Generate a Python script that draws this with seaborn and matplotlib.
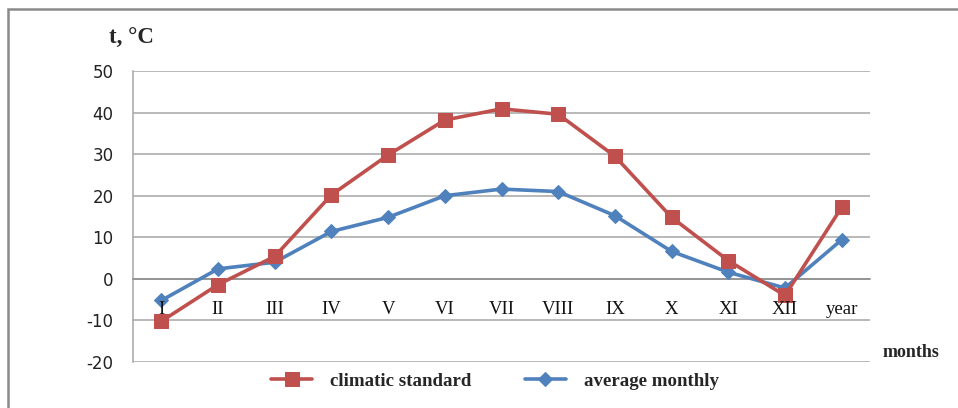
import matplotlib
matplotlib.use("Agg")
import matplotlib.pyplot as plt
import seaborn as sns
import pandas as pd
from matplotlib.patches import Rectangle

months = ["I", "II", "III", "IV", "V", "VI", "VII", "VIII", "IX", "X", "XI", "XII", "year"]
climatic_standard = [-10.2, -1.4, 5.4, 20.2, 29.8, 38.2, 40.9, 39.6, 29.5, 14.8, 4.4, -4.0, 17.2]
average_monthly = [-5.2, 2.4, 4.0, 11.4, 14.8, 20.0, 21.6, 21.0, 15.2, 6.6, 1.6, -2.2, 9.4]
y_ticks = [-20, -10, 0, 10, 20, 30, 40, 50]

RED = "#C0504D"
BLUE = "#4F81BD"
GRID = "#A6A6A6"

sns.set_theme(style="white")
plt.rcParams["font.family"] = ["DejaVu Sans"]

pos = list(range(len(months)))
df = pd.DataFrame({
    "pos": pos * 2,
    "temp": climatic_standard + average_monthly,
    "series": ["climatic standard"] * len(months) + ["average monthly"] * len(months),
})

fig = plt.figure(figsize=(9.58, 4.08), dpi=100)
ax = fig.add_axes([133 / 958, 1 - 362 / 408, (870 - 133) / 958, (362 - 71) / 408])

sns.lineplot(data=df[df.series == "climatic standard"], x="pos", y="temp", ax=ax,
             color=RED, lw=2.6, marker="s", markersize=10.5, markeredgecolor=RED,
             label="climatic standard", zorder=4)
sns.lineplot(data=df[df.series == "average monthly"], x="pos", y="temp", ax=ax,
             color=BLUE, lw=2.6, marker="D", markersize=7.5, markeredgecolor=BLUE,
             label="average monthly", zorder=3)

for s in ["top", "right"]:
    ax.spines[s].set_visible(False)
ax.spines["left"].set_color(GRID)
ax.spines["left"].set_linewidth(1.1)
ax.spines["bottom"].set_position(("data", 0))
ax.spines["bottom"].set_color("#8C8C8C")
ax.spines["bottom"].set_linewidth(1.1)

ax.set_xlim(-0.5, len(months) - 0.5)
ax.set_ylim(-20, 50)
ax.set_yticks(y_ticks)
ax.set_yticklabels([str(v) for v in y_ticks], fontsize=12, color="#222222")
ax.set_xticks(pos)
ax.set_xticklabels(months, fontsize=13.5, family="Liberation Serif", color="#111111")
ax.tick_params(axis="both", length=0)
ax.tick_params(axis="y", pad=14)
ax.tick_params(axis="x", pad=16)
ax.set_xlabel("")
ax.set_ylabel("")

ax.grid(axis="y", color=GRID, lw=1.1)
ax.set_axisbelow(True)
ax.xaxis.set_zorder(5)

ax.legend_.remove()
handles, labels = ax.get_legend_handles_labels()
fig.legend(handles, labels, loc="center", bbox_to_anchor=(495 / 958, 1 - 381 / 408),
           ncol=2, frameon=False, handlelength=2.2, columnspacing=2.8, handletextpad=0.95,
           prop={"family": "Liberation Serif", "weight": "bold", "size": 13.6})

fig.text(109 / 958, 1 - 44 / 408, "t, °C", family="Liberation Serif", weight="bold",
         fontsize=16.5, ha="left", va="baseline")
fig.text(883 / 958, 1 - 357 / 408, "months", family="Liberation Serif", weight="bold",
         fontsize=13, ha="left", va="baseline")

fig.patches.append(Rectangle((8 / 958, -0.1), 1.2, (1 - 9 / 408) + 0.1,
                             transform=fig.transFigure, fill=False, edgecolor="#8A8A8A",
                             lw=1.8, zorder=0))

fig.savefig("out.png", dpi=100)
